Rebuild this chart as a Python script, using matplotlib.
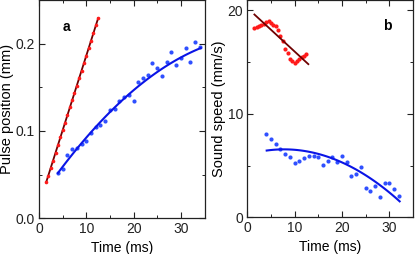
import numpy as np
import matplotlib
matplotlib.use("Agg")
import matplotlib.pyplot as plt
from matplotlib.ticker import MultipleLocator

plt.rcParams['font.family'] = ['Liberation Sans', 'DejaVu Sans']

# ---- Panel a data ----
a_red_t = [1.5, 2.0, 2.5, 3.0, 3.5, 4.0, 4.5, 5.0, 5.5, 6.0, 6.5, 7.0,
           7.5, 8.0, 8.5, 9.0, 9.5, 10.0, 10.5, 11.0, 11.5, 12.0, 12.5]
a_red_y = [0.041, 0.049, 0.058, 0.066, 0.075, 0.084, 0.093, 0.101, 0.109,
           0.118, 0.127, 0.135, 0.143, 0.152, 0.161, 0.169, 0.178, 0.186,
           0.195, 0.203, 0.212, 0.221, 0.229]
a_red_fit_t = [1.5, 12.5]
a_red_fit_y = [0.041, 0.229]

a_blue_t = list(range(4, 35))
a_blue_y = [0.052, 0.057, 0.072, 0.079, 0.081, 0.085, 0.089, 0.098, 0.105,
            0.107, 0.111, 0.124, 0.125, 0.134, 0.139, 0.141, 0.134, 0.156,
            0.161, 0.164, 0.178, 0.172, 0.163, 0.179, 0.190, 0.175, 0.184,
            0.195, 0.179, 0.202, 0.196]
a_blue_fit_t = [4, 10, 18.5, 26, 34.2]
a_blue_fit_y = [0.052, 0.092, 0.140, 0.171, 0.195]

# ---- Panel b data ----
b_red_t = a_red_t
b_red_v = [18.3, 18.35, 18.45, 18.55, 18.7, 18.85, 19.0, 18.8, 18.55, 18.45,
           18.1, 17.5, 17.0, 16.3, 15.9, 15.3, 15.1, 14.9, 15.1, 15.3, 15.5,
           15.6, 15.75]
b_red_fit_t = [1.5, 12.9]
b_red_fit_v = [19.6, 14.8]

b_blue_t = list(range(4, 33))
b_blue_v = [8.05, 7.55, 7.07, 6.6, 6.13, 5.84, 5.22, 5.42, 5.74, 5.96, 5.93,
            5.8, 5.08, 5.4, 5.8, 5.38, 5.97, 5.32, 4.03, 4.23, 4.9, 2.8, 2.52,
            3.0, 1.92, 3.3, 3.3, 2.7, 2.1]
b_blue_fit_t = [4.1, 10.2, 16.2, 20.2, 24.1, 28.2, 32.2]
b_blue_fit_v = [6.51, 6.45, 5.87, 5.29, 4.42, 3.13, 1.45]

RED = '#ff1a1a'
DARKRED = '#6e0000'
BLUE_DOT = '#3050ff'
BLUE_LINE = '#0a14e6'

fig = plt.figure(figsize=(4.15, 2.54), dpi=100)
ax1 = fig.add_axes([39/415, (254-218.3)/254, 165.5/415, 218.3/254])
ax2 = fig.add_axes([247.3/415, (254-217.3)/254, 165.6/415, 217.3/254])

def style(ax):
    ax.tick_params(which='both', direction='in', top=True, right=True,
                   labelsize=10, colors='#222222', pad=3)
    ax.tick_params(which='major', length=4, width=0.8)
    ax.tick_params(which='minor', length=2.2, width=0.7)
    for s in ax.spines.values():
        s.set_linewidth(0.9)
        s.set_color('#222222')

# Panel a
ax1.plot(a_red_fit_t, a_red_fit_y, color=DARKRED, lw=1.3, zorder=2)
ax1.plot(a_red_t, a_red_y, 'o', color=RED, ms=2.6, mew=0, zorder=3)
ax1.plot(a_blue_t, a_blue_y, 'o', color=BLUE_DOT, ms=3.0, mew=0, zorder=2)
cb = np.polyfit(a_blue_fit_t, a_blue_fit_y, 2)
tt = np.linspace(a_blue_fit_t[0], a_blue_fit_t[-1], 100)
ax1.plot(tt, np.polyval(cb, tt), color=BLUE_LINE, lw=1.5, zorder=3)
ax1.set_xlim(0, 35)
ax1.set_ylim(0, 0.25)
ax1.xaxis.set_major_locator(MultipleLocator(10))
ax1.xaxis.set_minor_locator(MultipleLocator(5))
ax1.yaxis.set_major_locator(MultipleLocator(0.1))
ax1.yaxis.set_minor_locator(MultipleLocator(0.05))
ax1.yaxis.set_major_formatter(matplotlib.ticker.FormatStrFormatter('%.1f'))
style(ax1)
ax1.set_xlabel('Time (ms)', fontsize=10, labelpad=3)
ax1.set_ylabel('Pulse position (mm)', fontsize=10.5, labelpad=1)
ax1.text(5.9, 0.219, 'a', fontsize=10, fontweight='bold', ha='center', va='center')

# Panel b
ax2.plot(b_red_t, b_red_v, 'o', color=RED, ms=3.0, mew=0, zorder=2)
ax2.plot(b_red_fit_t, b_red_fit_v, color=DARKRED, lw=1.3, zorder=3)
ax2.plot(b_blue_t, b_blue_v, 'o', color=BLUE_DOT, ms=3.0, mew=0, zorder=2)
cb2 = np.polyfit(b_blue_fit_t, b_blue_fit_v, 2)
tt2 = np.linspace(b_blue_fit_t[0], b_blue_fit_t[-1], 100)
ax2.plot(tt2, np.polyval(cb2, tt2), color=BLUE_LINE, lw=1.5, zorder=3)
ax2.set_xlim(0, 35)
ax2.set_ylim(0, 21)
ax2.xaxis.set_major_locator(MultipleLocator(10))
ax2.xaxis.set_minor_locator(MultipleLocator(5))
ax2.yaxis.set_major_locator(MultipleLocator(10))
ax2.yaxis.set_minor_locator(MultipleLocator(5))
style(ax2)
ax2.set_xlabel('Time (ms)', fontsize=10, labelpad=3)
ax2.set_ylabel('Sound speed (mm/s)', fontsize=10.5, labelpad=1)
ax2.text(29.5, 18.45, 'b', fontsize=10, fontweight='bold', ha='center', va='center')

fig.savefig('out.png', dpi=100)
